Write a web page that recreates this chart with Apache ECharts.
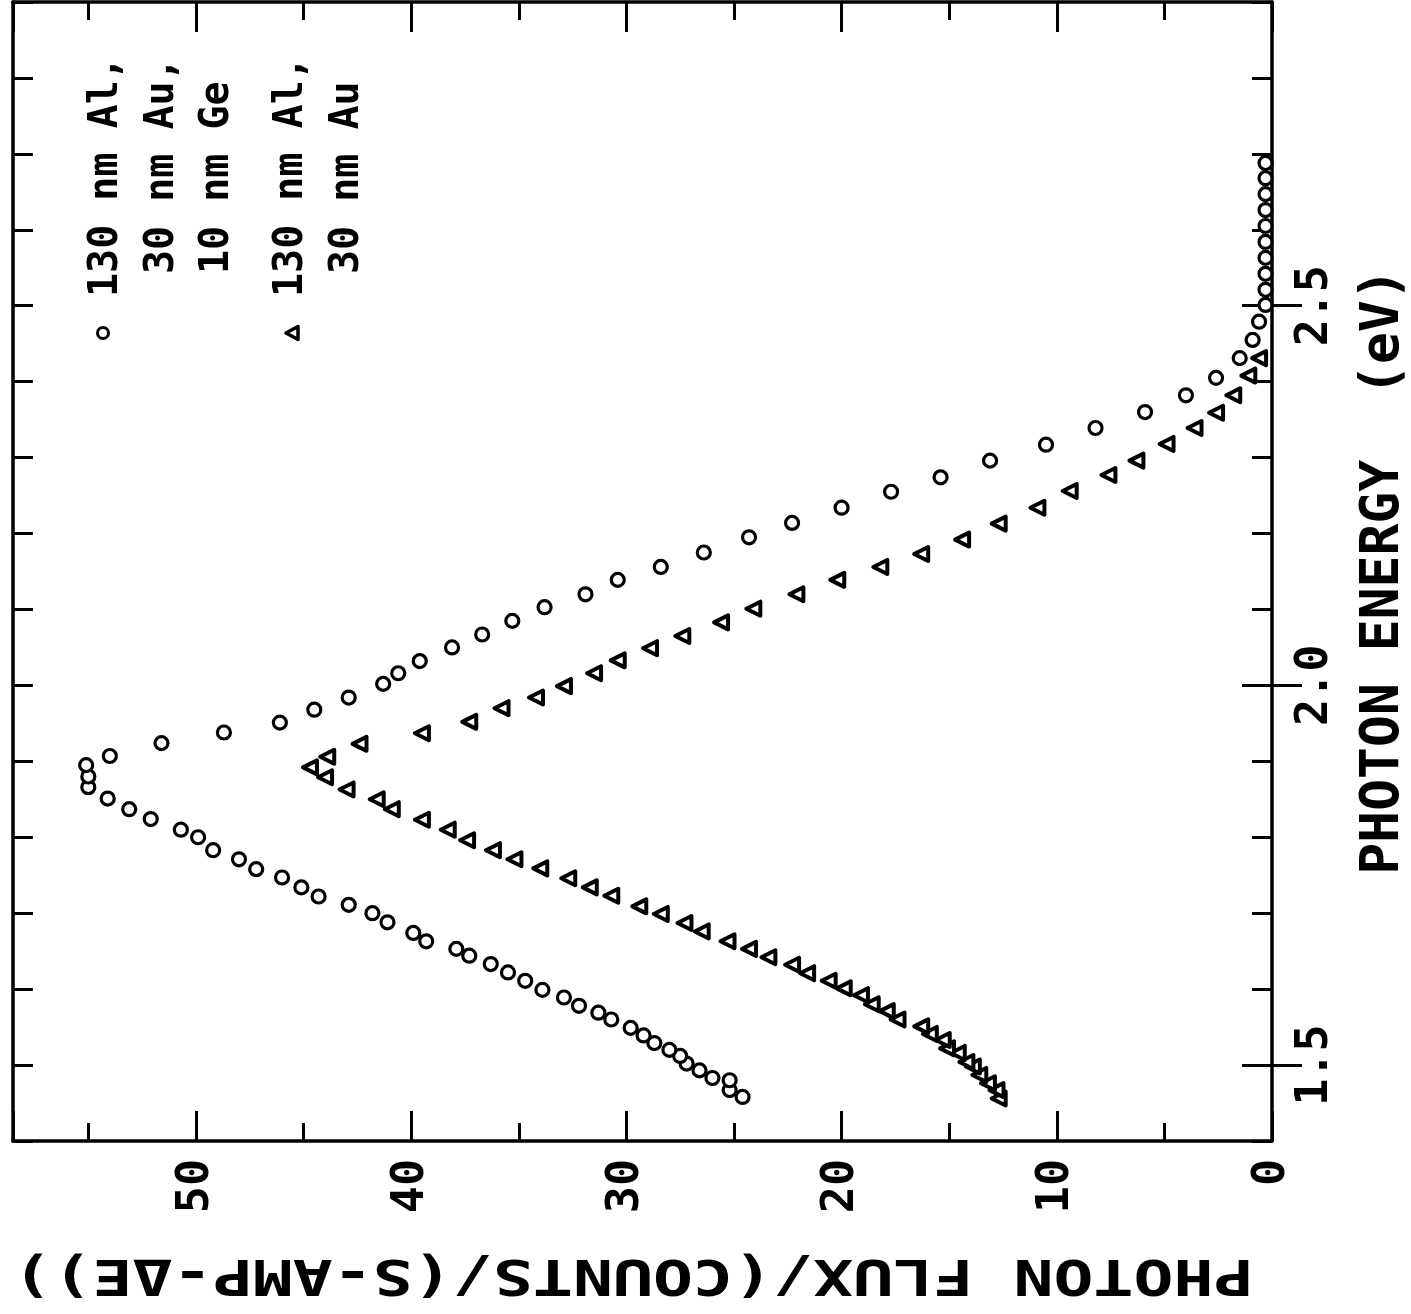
<!DOCTYPE html>
<html><head><meta charset="utf-8">
<script src="https://cdn.jsdelivr.net/npm/echarts@6/dist/echarts.min.js"></script>
<style>html,body{margin:0;padding:0;background:#fff}#c{width:1411px;height:1314px}</style>
</head><body><div id="c"></div>
<script>
// Series: 130 nm Al, 30 nm Au, 10 nm Ge (circles)
const circleEnergy = [1.458,1.467,1.480,1.483,1.493,1.502,1.512,1.520,1.529,1.539,1.549,1.560,1.569,1.578,1.589,1.599,1.611,1.622,1.633,1.644,1.653,1.663,1.674,1.688,1.700,1.711,1.722,1.734,1.747,1.758,1.771,1.783,1.800,1.810,1.824,1.837,1.851,1.866,1.880,1.895,1.907,1.924,1.938,1.951,1.968,1.984,2.002,2.016,2.032,2.050,2.067,2.085,2.103,2.120,2.139,2.156,2.175,2.195,2.214,2.234,2.255,2.274,2.296,2.317,2.339,2.360,2.382,2.405,2.431,2.455,2.479,2.501,2.521,2.542,2.563,2.584,2.605,2.626,2.647,2.668,2.688];
const circleFlux = [24.6,25.2,25.2,26.0,26.6,27.2,27.5,28.0,28.7,29.2,29.8,30.7,31.3,32.2,32.9,33.9,34.7,35.5,36.3,37.3,37.9,39.3,39.9,41.1,41.8,42.9,44.3,45.1,46.0,47.2,48.0,49.2,49.9,50.7,52.1,53.1,54.1,55.0,55.0,55.1,54.0,51.6,48.7,46.1,44.5,42.9,41.3,40.6,39.6,38.1,36.7,35.3,33.8,31.9,30.4,28.4,26.4,24.3,22.3,20.0,17.7,15.4,13.1,10.5,8.2,5.9,4.0,2.6,1.5,0.9,0.6,0.3,0.3,0.3,0.3,0.3,0.3,0.3,0.3,0.3,0.3];
// Series: 130 nm Al, 30 nm Au (triangles)
const triEnergy = [1.456,1.467,1.476,1.487,1.498,1.504,1.516,1.522,1.533,1.541,1.551,1.560,1.571,1.580,1.592,1.601,1.611,1.621,1.632,1.642,1.653,1.663,1.676,1.687,1.699,1.709,1.723,1.734,1.746,1.759,1.771,1.783,1.796,1.810,1.823,1.837,1.850,1.863,1.879,1.892,1.906,1.923,1.937,1.952,1.970,1.984,1.999,2.016,2.033,2.049,2.065,2.083,2.101,2.120,2.139,2.156,2.173,2.192,2.213,2.234,2.256,2.277,2.296,2.318,2.339,2.359,2.382,2.408,2.431];
const triFlux = [12.7,12.8,13.2,13.6,13.9,14.2,14.6,15.1,15.3,15.9,16.3,17.4,17.9,18.6,19.1,19.9,20.6,21.6,22.3,23.4,24.3,25.3,26.5,27.3,28.4,29.4,30.7,31.7,32.7,34.0,35.2,36.2,37.4,38.3,39.5,40.9,41.6,43.0,44.0,44.7,43.9,42.4,39.5,37.3,35.8,34.2,32.9,31.5,30.4,28.9,27.4,25.6,24.1,22.1,20.2,18.2,16.3,14.4,12.7,10.9,9.4,7.6,6.3,4.9,3.6,2.6,1.8,1.1,0.6];

const legendCircleLines = ['130 nm Al,', '30 nm Au,', '10 nm Ge'];
const legendTriangleLines = ['130 nm Al,', '30 nm Au'];

const fluxTickValues = [0, 10, 20, 30, 40, 50];
const fluxTickLabels = ['0', '10', '20', '30', '40', '50'];
const energyTickValues = [1.5, 2.0, 2.5];
const energyTickLabels = ['1.5', '2.0', '2.5'];
const energyMajorTicks = [1.5, 2.0, 2.5];

const xTitle = 'PHOTON FLUX/(COUNTS/(S-AMP-ΔE))';
const yTitle = 'PHOTON ENERGY  (eV)';

const MONO = '"DejaVu Sans Mono", monospace';
const BLK = '#000';

const chart = echarts.init(document.getElementById('c'), null, {renderer: 'canvas'});

function pairs(xs, ys) { return xs.map((v, i) => [v, ys[i]]); }

const fluxAxisBase = {
  type: 'value', inverse: true, min: 0, max: 58.5, interval: 10,
  axisLine: {show: true, onZero: false, lineStyle: {color: BLK, width: 3.5}},
  axisTick: {show: true, inside: true, length: 30, lineStyle: {color: BLK, width: 3}},
  minorTick: {show: true, splitNumber: 2, length: 18, lineStyle: {color: BLK, width: 3}},
  splitLine: {show: false}, minorSplitLine: {show: false}
};
const energyAxisBase = {
  type: 'value', min: 1.4, max: 2.9, interval: 0.1,
  axisLine: {show: true, onZero: false, lineStyle: {color: BLK, width: 3.5}},
  axisTick: {show: true, inside: true, length: 20, lineStyle: {color: BLK, width: 3}},
  splitLine: {show: false}
};
const energyMajorAxis = {
  type: 'value', min: 1.4, max: 2.9,
  axisLine: {show: false},
  axisTick: {show: true, inside: true, length: 30, customValues: energyMajorTicks, lineStyle: {color: BLK, width: 3}},
  axisLabel: {show: false}, splitLine: {show: false}
};

const graphics = [];
graphics.push({type: 'circle', shape: {cx: 103, cy: 333, r: 5.5}, style: {fill: '#fff', stroke: BLK, lineWidth: 3}, z: 10});
graphics.push({type: 'polygon', shape: {points: [[286, 333], [298, 326.5], [298, 339.5]]}, style: {fill: '#fff', stroke: BLK, lineWidth: 3.5, lineJoin: 'round'}, z: 10});
const circleLinePos = [[107, 297], [163, 274], [218, 274]];
legendCircleLines.forEach((t, i) => graphics.push({
  type: 'text', x: circleLinePos[i][0], y: circleLinePos[i][1], rotation: Math.PI / 2, z: 10,
  style: {text: t, font: 'bold 40px ' + MONO, fill: BLK, textAlign: 'left', align: 'left', textVerticalAlign: 'middle', verticalAlign: 'middle'}
}));
const triLinePos = [[292, 297], [348, 274]];
legendTriangleLines.forEach((t, i) => graphics.push({
  type: 'text', x: triLinePos[i][0], y: triLinePos[i][1], rotation: Math.PI / 2, z: 10,
  style: {text: t, font: 'bold 40px ' + MONO, fill: BLK, textAlign: 'left', align: 'left', textVerticalAlign: 'middle', verticalAlign: 'middle'}
}));
// flux axis title (upside down, letter-spaced like the original lettering)
graphics.push({
  type: 'text', x: 633, y: 1273, rotation: Math.PI, scaleX: 1.33, z: 10,
  style: {text: xTitle, font: 'bold 50px ' + MONO, fill: BLK, textAlign: 'center', align: 'center', textVerticalAlign: 'middle', verticalAlign: 'middle'}
});

chart.setOption({
  animation: false,
  backgroundColor: '#fff',
  grid: {left: 13, right: 139, top: 2, bottom: 173, containLabel: false, outerBoundsMode: 'none'},
  xAxis: [
    Object.assign({}, fluxAxisBase, {
      position: 'bottom',
      axisLabel: {show: true, customValues: fluxTickValues, formatter: v => fluxTickLabels[fluxTickValues.indexOf(v)],
        rotate: 90, margin: 18, fontSize: 45, fontWeight: 'bold', fontFamily: MONO, color: BLK}
    }),
    Object.assign({}, fluxAxisBase, {position: 'top', axisLabel: {show: false}})
  ],
  yAxis: [
    Object.assign({}, energyAxisBase, {
      position: 'right',
      axisLabel: {show: true, customValues: energyTickValues, formatter: v => energyTickLabels[energyTickValues.indexOf(v)],
        rotate: 90, margin: 21, fontSize: 45, fontWeight: 'bold', fontFamily: MONO, color: BLK},
      name: yTitle, nameLocation: 'middle', nameRotate: 90, nameGap: 86, nameMoveOverlap: false,
      nameTextStyle: {fontSize: 53, fontWeight: 'bold', fontFamily: MONO, color: BLK}
    }),
    Object.assign({}, energyMajorAxis, {position: 'right'}),
    Object.assign({}, energyAxisBase, {position: 'left', axisLabel: {show: false}}),
    Object.assign({}, energyMajorAxis, {position: 'left'})
  ],
  series: [
    {
      name: '130 nm Al, 30 nm Au, 10 nm Ge', type: 'scatter', xAxisIndex: 0, yAxisIndex: 0,
      data: pairs(circleFlux, circleEnergy),
      symbol: 'circle', symbolSize: 13,
      itemStyle: {color: '#fff', borderColor: BLK, borderWidth: 3.2, opacity: 1}, z: 5
    },
    {
      name: '130 nm Al, 30 nm Au', type: 'scatter', xAxisIndex: 0, yAxisIndex: 0,
      data: pairs(triFlux, triEnergy),
      symbol: 'triangle', symbolSize: 14, symbolRotate: 90,
      itemStyle: {color: '#fff', borderColor: BLK, borderWidth: 4, borderJoin: 'round', opacity: 1}, z: 5
    }
  ],
  graphic: graphics
});
</script></body></html>
